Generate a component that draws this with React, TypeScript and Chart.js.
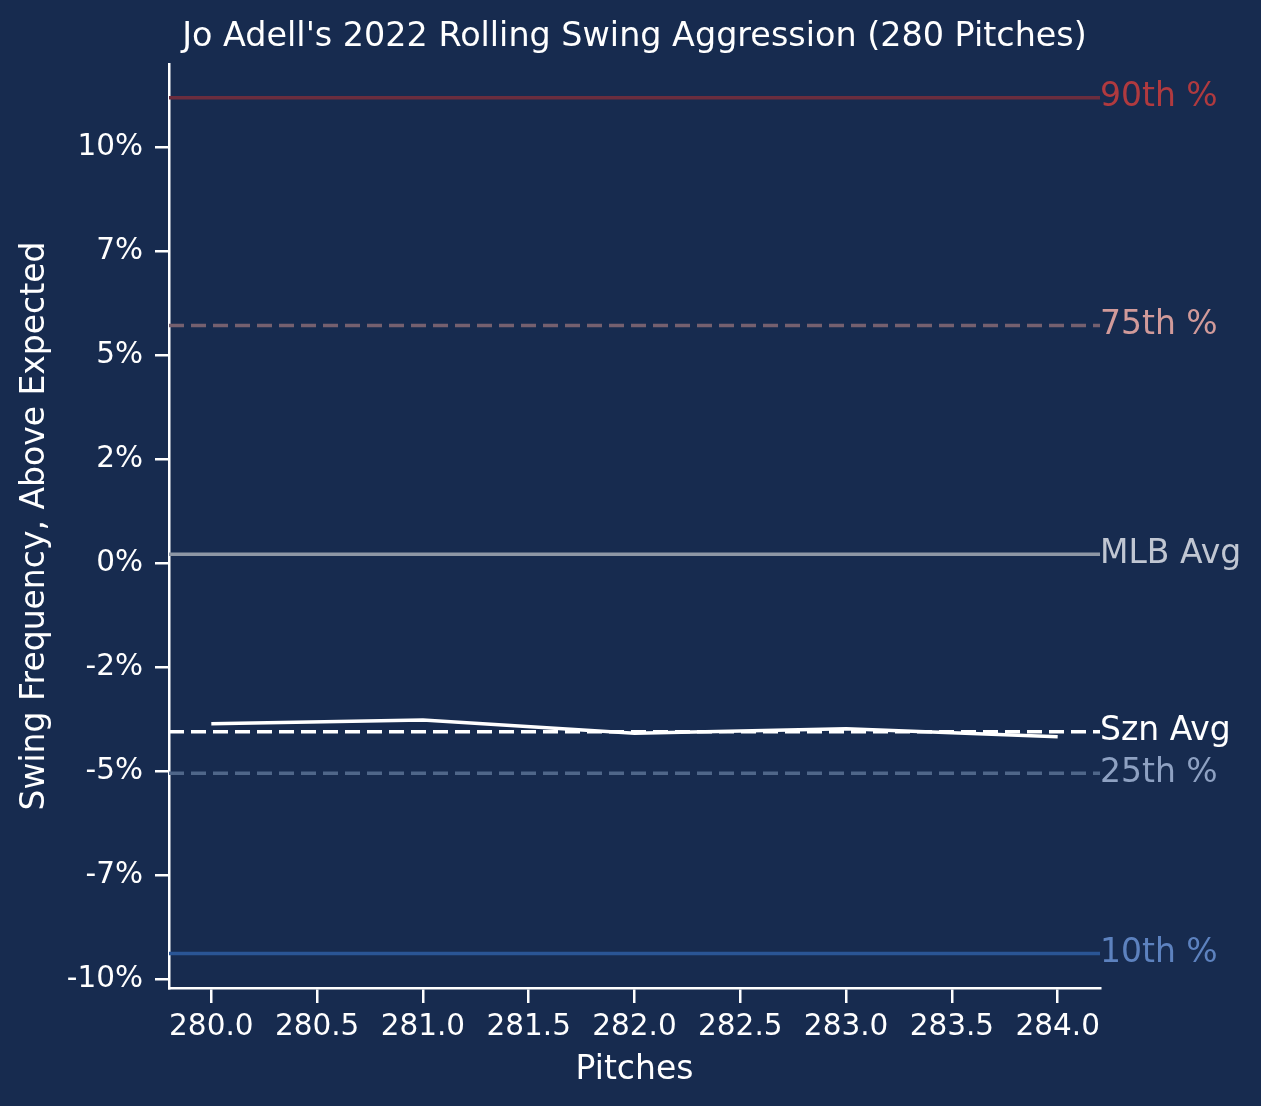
import { useEffect, useRef } from "react";
import { Chart, registerables } from "chart.js";

Chart.register(...registerables);

const TITLE = "Jo Adell's 2022 Rolling Swing Aggression (280 Pitches)";
const X_LABEL = "Pitches";
const Y_LABEL = "Swing Frequency, Above Expected";

const pitches = [280, 281, 282, 283, 284];
const swingAggression = [-3.85, -3.76, -4.08, -3.97, -4.16];

const xRange = [279.8, 284.2];
const yRange = [-10.2, 12.0];
const xTicks = [280, 280.5, 281, 281.5, 282, 282.5, 283, 283.5, 284];
const yTicks = [-10, -7.5, -5, -2.5, 0, 2.5, 5, 7.5, 10];
const yTickLabels = ["-10%", "-7%", "-5%", "-2%", "0%", "2%", "5%", "7%", "10%"];

const refNames = ["90th %", "75th %", "MLB Avg", "Szn Avg", "25th %", "10th %"];
const refValues = [11.19, 5.72, 0.22, -4.04, -5.04, -9.37];

// styles
const BG = "#172B4F";
const FONT = "'DejaVu Sans', sans-serif";
const refLineColors = ["#6B2D3E", "#75606F", "#8E97A5", "#FFFFFF", "#4F6689", "#2A5595"];
const refTextColors = ["#B03A3F", "#D19A9A", "#C0C6D2", "#FFFFFF", "#8EA1C2", "#5D82BF"];
const refDashed = [false, true, false, true, true, false];

const bgPlugin = {
  id: "bg",
  beforeDraw(chart: any) {
    const ctx = chart.ctx;
    ctx.save();
    ctx.fillStyle = BG;
    ctx.fillRect(0, 0, chart.width, chart.height);
    ctx.restore();
  },
};

const refLabelPlugin = {
  id: "refLabels",
  afterDraw(chart: any) {
    const ctx = chart.ctx;
    const y = chart.scales.y;
    const x0 = chart.chartArea.right;
    ctx.save();
    ctx.font = `33px ${FONT}`;
    ctx.textAlign = "left";
    ctx.textBaseline = "middle";
    refNames.forEach((name, i) => {
      ctx.fillStyle = refTextColors[i];
      ctx.fillText(name, x0, y.getPixelForValue(refValues[i]));
    });
    ctx.restore();
  },
};

export default function App() {
  const ref = useRef<HTMLCanvasElement | null>(null);

  useEffect(() => {
    document.body.style.margin = "0";
    const canvas = ref.current;
    if (!canvas) return;

    const refDatasets = refNames.map((name, i) => ({
      label: name,
      data: [
        { x: xRange[0], y: refValues[i] },
        { x: xRange[1], y: refValues[i] },
      ],
      borderColor: refLineColors[i],
      borderWidth: 3.5,
      borderDash: refDashed[i] ? [15, 7] : [],
      pointRadius: 0,
      fill: false,
      order: 2,
    }));

    const chart = new Chart(canvas, {
      type: "line",
      data: {
        datasets: [
          {
            label: "Rolling",
            data: pitches.map((p, i) => ({ x: p, y: swingAggression[i] })),
            borderColor: "#FFFFFF",
            borderWidth: 3.5,
            pointRadius: 0,
            tension: 0,
            fill: false,
            order: 1,
          },
          ...refDatasets,
        ],
      },
      plugins: [bgPlugin, refLabelPlugin],
      options: {
        animation: false,
        responsive: false,
        devicePixelRatio: 1,
        layout: { padding: { left: 0, right: 161, top: 0, bottom: 0 } },
        plugins: {
          legend: { display: false },
          tooltip: { enabled: false },
          title: {
            display: true,
            text: TITLE,
            color: "#FFFFFF",
            fullSize: false,
            font: { family: FONT, size: 33.4, weight: "normal" },
            padding: { top: 17, bottom: 7 },
          },
        },
        scales: {
          x: {
            type: "linear",
            min: xRange[0],
            max: xRange[1],
            afterBuildTicks: (scale: any) => {
              scale.ticks = xTicks.map((v) => ({ value: v }));
            },
            afterFit: (scale: any) => {
              scale.height = 118;
            },
            ticks: {
              color: "#FFFFFF",
              font: { family: FONT, size: 29.5 },
              padding: 7,
              maxRotation: 0,
              autoSkip: false,
              callback: (v: any) => Number(v).toFixed(1),
            },
            grid: {
              display: true,
              drawOnChartArea: false,
              drawTicks: true,
              tickLength: 15,
              color: "#FFFFFF",
              lineWidth: 2.5,
            },
            border: { display: true, color: "#FFFFFF", width: 2.5 },
            title: {
              display: true,
              text: X_LABEL,
              color: "#FFFFFF",
              font: { family: FONT, size: 33 },
              padding: { top: 0, bottom: 16 },
            },
          },
          y: {
            type: "linear",
            position: "left",
            min: yRange[0],
            max: yRange[1],
            afterBuildTicks: (scale: any) => {
              scale.ticks = yTicks.map((v) => ({ value: v }));
            },
            afterFit: (scale: any) => {
              scale.width = 169;
            },
            ticks: {
              color: "#FFFFFF",
              font: { family: FONT, size: 29.5 },
              padding: 12,
              autoSkip: false,
              callback: (_v: any, i: number) => yTickLabels[i],
            },
            grid: {
              display: true,
              drawOnChartArea: false,
              drawTicks: true,
              tickLength: 14,
              color: "#FFFFFF",
              lineWidth: 2.5,
            },
            border: { display: true, color: "#FFFFFF", width: 2.5 },
            title: {
              display: true,
              text: Y_LABEL,
              color: "#FFFFFF",
              font: { family: FONT, size: 33 },
              padding: { top: 16, bottom: 0 },
            },
          },
        },
      },
    } as any);

    return () => chart.destroy();
  }, []);

  return (
    <div
      style={{
        position: "absolute",
        left: 0,
        top: 0,
        width: 1261,
        height: 1106,
        background: BG,
      }}
    >
      <canvas ref={ref} width={1261} height={1106} style={{ display: "block" }} />
    </div>
  );
}
